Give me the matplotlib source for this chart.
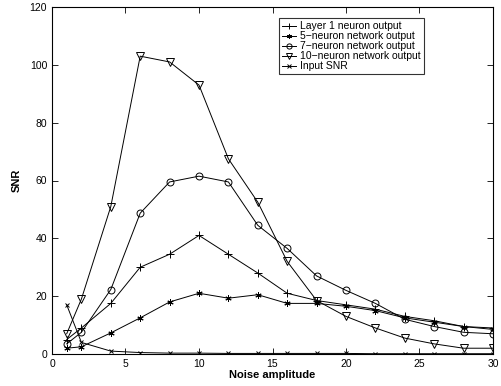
import matplotlib.pyplot as plt

plt.rcParams['font.family'] = ['Liberation Sans', 'DejaVu Sans']

noise = [1, 2, 4, 6, 8, 10, 12, 14, 16, 18, 20, 22, 24, 26, 28, 30]

layer1 = [5, 9, 17.5, 30, 34.5, 41, 34.5, 28, 21, 18.5, 17, 15.5, 13, 11.5, 9.5, 9]
net5 = [2, 2.5, 7.3, 12.5, 18, 21, 19.3, 20.5, 17.5, 17.5, 16.5, 15, 12.5, 11, 9.5, 8.5]
net7 = [3.5, 7.5, 22.3, 48.7, 59.5, 61.5, 59.5, 44.5, 36.5, 27, 22, 17.5, 12, 9.5, 7.5, 7]
net10 = [7, 19, 51, 103, 101, 93, 67.5, 52.5, 32, 18.5, 13, 9, 5.5, 3.5, 2, 2]
input_snr = [17, 4, 1, 0.5, 0.3, 0.3, 0.2, 0.2, 0.2, 0.2, 0.2, 0.1, 0.1, 0.1, 0.1, 0.1]

labels = ["Layer 1 neuron output", "5\u2212neuron network output", "7\u2212neuron network output",
          "10\u2212neuron network output", "Input SNR"]

fig = plt.figure(figsize=(5.02, 3.86), dpi=100)
ax = fig.add_axes([52/502, 1 - 354/386, 441/502, 347/386])

kw = dict(color="black", lw=0.7, mfc="none", mec="black", mew=0.7)
ax.plot(noise, layer1, marker="+", ms=6, label=labels[0], **kw)
ax.plot(noise, net5, marker=(6, 2, 0), ms=4.5, label=labels[1], **kw)
ax.plot(noise, net7, marker="o", ms=5, label=labels[2], **kw)
ax.plot(noise, net10, marker="v", ms=5.5, label=labels[3], **kw)
ax.plot(noise, input_snr, marker="x", ms=3.5, label=labels[4], **kw)

ax.set_xlim(0, 30)
ax.set_ylim(0, 120)
ax.set_xticks(range(0, 31, 5))
ax.set_yticks(range(0, 121, 20))
ax.tick_params(direction="in", top=True, right=True, labelsize=7.5, length=4, width=0.6)
for s in ax.spines.values():
    s.set_linewidth(0.8)

ax.set_xlabel("Noise amplitude", fontsize=8, fontweight="bold", labelpad=1)
ax.set_ylabel("SNR", fontsize=8, fontweight="bold", labelpad=6)

leg = ax.legend(loc="upper right", bbox_to_anchor=(0.844, 0.968), fontsize=7.5, frameon=True,
                fancybox=False, edgecolor="black", handlelength=1.4, handletextpad=0.4,
                labelspacing=0.0, borderpad=0.3, borderaxespad=0, markerscale=0.75)
leg.get_frame().set_linewidth(0.8)

plt.savefig("out.png", dpi=100)
